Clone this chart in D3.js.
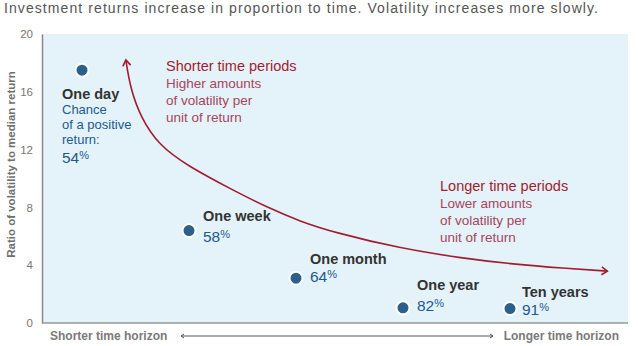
<!DOCTYPE html>
<html>
<head>
<meta charset="utf-8">
<script src="https://cdn.jsdelivr.net/npm/d3@7"></script>
<style>
  body { margin: 0; background: #fff; }
  svg { font-family: "Liberation Sans", Arial, sans-serif; display: block; }
</style>
</head>
<body>
<svg id="chart"></svg>
<script>
// Data
const periods = ["One day", "One week", "One month", "One year", "Ten years"];
const ratios = [17.5, 6.4, 3.1, 1.05, 1.0];
const chances = ["54", "58", "64", "82", "91"];
const yTicks = [0, 4, 8, 12, 16, 20];

// annotation curve, in (period index, ratio) units
const curveIdx = [0.41, 0.45, 0.55, 0.72, 0.98, 1.41, 1.73, 2.04, 2.35, 2.97, 3.56, 4.03, 4.5, 4.91];
const curveVal = [18.2, 16.3, 14.2, 12.3, 10.9, 9.2, 8.0, 7.03, 6.28, 5.17, 4.48, 4.07, 3.79, 3.59];

const width = 638;
const height = 346;
const plot = { left: 42, right: 628, top: 34, bottom: 323 };

const navy = "#2d5f8b";
const blueText = "#1d5a8e";
const red = "#a11d2f";
const redLight = "#a8455a";
const grey = "#6f6f6f";

const svg = d3.select("#chart")
  .attr("width", width)
  .attr("height", height);

// Scales
const x = d3.scalePoint()
  .domain(periods)
  .range([82, 510]);

const xIdx = d3.scaleLinear()
  .domain([0, periods.length - 1])
  .range([x(periods[0]), x(periods[periods.length - 1])]);

const y = d3.scaleLinear()
  .domain([0, 20])
  .range([plot.bottom, plot.top]);

// Title
svg.append("text")
  .attr("x", 4)
  .attr("y", 13)
  .attr("font-size", 14)
  .attr("textLength", 594)
  .attr("lengthAdjust", "spacing")
  .attr("fill", "#555")
  .text("Investment returns increase in proportion to time. Volatility increases more slowly.");

// Background
svg.append("rect")
  .attr("x", plot.left)
  .attr("y", plot.top)
  .attr("width", plot.right - plot.left)
  .attr("height", plot.bottom - plot.top)
  .attr("fill", "#e4f2fa");

// Y axis
const yAxis = svg.append("g")
  .attr("transform", `translate(${plot.left},0)`)
  .call(d3.axisLeft(y).tickValues(yTicks).tickSize(0).tickPadding(9));
yAxis.select(".domain").attr("stroke", "#888").attr("stroke-width", 1.5);
yAxis.selectAll("text")
  .attr("font-family", "Liberation Sans, Arial, sans-serif")
  .attr("font-size", 11.5)
  .attr("fill", "#777");

// Bottom baseline
svg.append("line")
  .attr("x1", plot.left)
  .attr("x2", plot.right)
  .attr("y1", plot.bottom)
  .attr("y2", plot.bottom)
  .attr("stroke", "#999")
  .attr("stroke-width", 1.5);

// Y axis label
svg.append("text")
  .attr("transform", `translate(15,${(plot.top + plot.bottom) / 2 - 14}) rotate(-90)`)
  .attr("text-anchor", "middle")
  .attr("font-size", 11.5)
  .attr("font-weight", "bold")
  .attr("fill", grey)
  .text("Ratio of volatility to median return");

// Time horizon footer
svg.append("text")
  .attr("x", 50)
  .attr("y", 340)
  .attr("font-size", 12)
  .attr("font-weight", "bold")
  .attr("fill", "#7a7a7a")
  .text("Shorter time horizon");

svg.append("text")
  .attr("x", 619)
  .attr("y", 340)
  .attr("text-anchor", "end")
  .attr("font-size", 12)
  .attr("font-weight", "bold")
  .attr("fill", "#7a7a7a")
  .text("Longer time horizon");

svg.append("path")
  .attr("d", "M181,336H493M184,334L181,336L184,338M490,334L493,336L490,338")
  .attr("fill", "none")
  .attr("stroke", "#555")
  .attr("stroke-width", 1);

// Red annotation curve
const curvePts = curveIdx.map((d, i) => [xIdx(d), y(curveVal[i])]);
const line = d3.line().curve(d3.curveBasis);

svg.append("path")
  .attr("d", line(curvePts))
  .attr("fill", "none")
  .attr("stroke", red)
  .attr("stroke-width", 1.6);

function arrowHead(p, q) {
  // chevron at p, pointing away from q
  const a = Math.atan2(p[1] - q[1], p[0] - q[0]);
  const s = 7, w = 0.6;
  const l = [p[0] - s * Math.cos(a - w), p[1] - s * Math.sin(a - w)];
  const r = [p[0] - s * Math.cos(a + w), p[1] - s * Math.sin(a + w)];
  svg.append("path")
    .attr("d", `M${l}L${p}L${r}`)
    .attr("fill", "none")
    .attr("stroke", red)
    .attr("stroke-width", 1.6);
}
arrowHead(curvePts[0], curvePts[1]);
arrowHead(curvePts[curvePts.length - 1], curvePts[curvePts.length - 2]);

// Annotation texts
const notes = [
  { x: 166, y: 71, lines: ["Shorter time periods", "Higher amounts", "of volatility per", "unit of return"] },
  { x: 440, y: 191, lines: ["Longer time periods", "Lower amounts", "of volatility per", "unit of return"] }
];
notes.forEach(n => {
  const t = svg.append("text").attr("x", n.x).attr("y", n.y).attr("font-size", 14);
  n.lines.forEach((s, i) => {
    t.append("tspan")
      .attr("x", n.x)
      .attr("dy", i === 0 ? 0 : 17)
      .attr("fill", i === 0 ? red : redLight)
      .attr("font-size", i === 0 ? 14.5 : 13.5)
      .text(s);
  });
});

// Dots
svg.selectAll("circle.dot")
  .data(periods)
  .join("circle")
  .attr("class", "dot")
  .attr("cx", d => x(d))
  .attr("cy", (d, i) => y(ratios[i]))
  .attr("r", 6.5)
  .attr("fill", navy)
  .attr("stroke", "#fff")
  .attr("stroke-width", 2);

// Point labels (offsets from the dot)
const labelPos = [
  { dx: -20, dy: 29, pdy: 93, extra: ["Chance", "of a positive", "return:"] },
  { dx: 14, dy: -10, pdy: 11 },
  { dx: 14, dy: -14, pdy: 4 },
  { dx: 14, dy: -18, pdy: 3 },
  { dx: 12, dy: -12, pdy: 6 }
];

periods.forEach((p, i) => {
  const cx = x(p), cy = y(ratios[i]);
  const L = labelPos[i];
  svg.append("text")
    .attr("x", cx + L.dx)
    .attr("y", cy + L.dy)
    .attr("font-size", 14.5)
    .attr("font-weight", "bold")
    .attr("fill", "#333")
    .text(p);
  if (L.extra) {
    L.extra.forEach((s, j) => {
      svg.append("text")
        .attr("x", cx + L.dx)
        .attr("y", cy + L.dy + 15 * (j + 1))
        .attr("font-size", 13)
        .attr("fill", blueText)
        .text(s);
    });
  }
  const pt = svg.append("text")
    .attr("x", cx + L.dx)
    .attr("y", cy + L.pdy)
    .attr("font-size", 15.5)
    .attr("fill", blueText);
  pt.append("tspan").text(chances[i]);
  pt.append("tspan").attr("font-size", 11).attr("dy", -4).text("%");
});
</script>
</body>
</html>
